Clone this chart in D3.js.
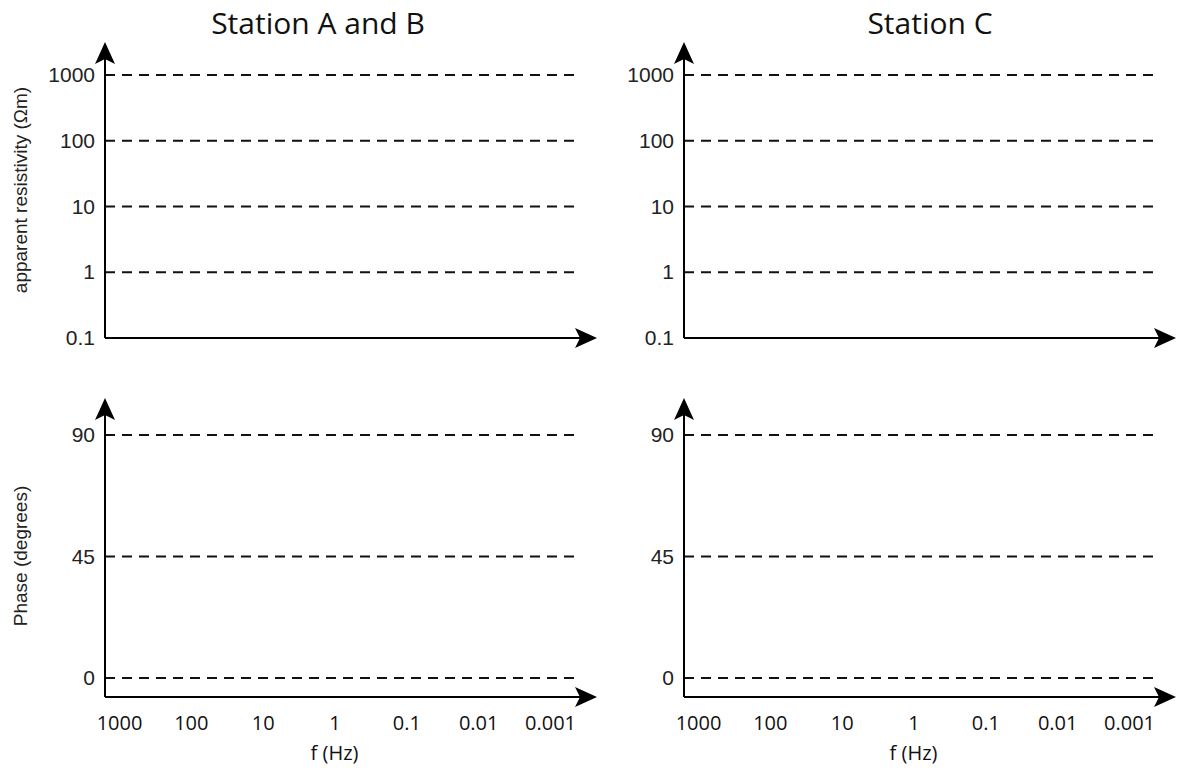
<!DOCTYPE html>
<html lang="en">
<head>
    <meta charset="UTF-8">
    <title>Station A and B / Station C</title>
    <style>
        body {
            margin: 0;
            background-color: #fff;
        }
        svg {
            display: block;
        }
        .title {
            font-family: "Open Sans", sans-serif;
            font-size: 30px;
            fill: #111;
        }
        .ylab {
            font-family: "Liberation Sans", Arial, sans-serif;
            font-size: 19px;
            fill: #222;
        }
        .ytick text {
            font-family: "Liberation Sans", Arial, sans-serif;
            font-size: 21px;
            fill: #222;
        }
        .xtick text, .xlab {
            font-family: "Open Sans", sans-serif;
            font-size: 20px;
            fill: #111;
        }
    </style>
    <script src="https://d3js.org/d3.v7.min.js"></script>
</head>
<body>
    <div id="chart"></div>
    <script>
        // chart content
        const stations = ["Station A and B", "Station C"];
        const freqTicks = [1000, 100, 10, 1, 0.1, 0.01, 0.001];
        const freqLabels = ["1000", "100", "10", "1", "0.1", "0.01", "0.001"];
        const resTicks = [0.1, 1, 10, 100, 1000];
        const resLabels = ["0.1", "1", "10", "100", "1000"];
        const resGrid = [1, 10, 100, 1000];
        const phaseTicks = [0, 45, 90];
        const phaseLabels = ["0", "45", "90"];

        const width = 1177;
        const height = 771;

        // left edge of each panel (y axis position) and title centre
        const panelX = [105, 684];
        const titleX = [318, 930];
        const axisLen = 492;

        const svg = d3.select('#chart').append('svg')
            .attr('width', width)
            .attr('height', height);

        const yRes = d3.scaleLog().domain([0.1, 1000]).range([338, 75]);
        const yPhase = d3.scaleLinear().domain([0, 90]).range([678, 435]);
        const phaseAxisY = 697;

        function arrowRight(g, x, y) {
            g.append('path')
                .attr('d', `M${x},${y} L${x - 22},${y - 10} L${x - 17},${y} L${x - 22},${y + 10} Z`)
                .attr('fill', '#000');
        }

        function arrowUp(g, x, y) {
            g.append('path')
                .attr('d', `M${x},${y} L${x - 10},${y + 22} L${x},${y + 17} L${x + 10},${y + 22} Z`)
                .attr('fill', '#000');
        }

        stations.forEach((name, i) => {
            const x0 = panelX[i];
            const g = svg.append('g');

            const x = d3.scaleLog().domain([1000, 0.001]).range([x0 + 14, x0 + 445]);

            g.append('text')
                .attr('class', 'title')
                .attr('x', titleX[i])
                .attr('y', 34)
                .attr('text-anchor', 'middle')
                .text(name);

            // resistivity panel
            g.selectAll('.resgrid')
                .data(resGrid)
                .enter().append('line')
                .attr('x1', x0)
                .attr('x2', x0 + 475)
                .attr('y1', d => yRes(d))
                .attr('y2', d => yRes(d))
                .attr('stroke', '#111')
                .attr('stroke-width', 2)
                .attr('stroke-dasharray', '10,7');

            const ra = g.append('g')
                .attr('class', 'ytick')
                .attr('transform', `translate(${x0},0)`)
                .call(d3.axisLeft(yRes).tickValues(resTicks)
                    .tickFormat((d, k) => resLabels[k]).tickSize(0).tickPadding(10));
            ra.select('.domain').remove();

            g.append('line')
                .attr('x1', x0).attr('x2', x0)
                .attr('y1', yRes(0.1)).attr('y2', 52)
                .attr('stroke', '#000').attr('stroke-width', 2);
            g.append('line')
                .attr('x1', x0).attr('x2', x0 + axisLen - 10)
                .attr('y1', yRes(0.1)).attr('y2', yRes(0.1))
                .attr('stroke', '#000').attr('stroke-width', 2);
            arrowUp(g, x0, 42);
            arrowRight(g, x0 + axisLen, yRes(0.1));

            // phase panel
            g.selectAll('.phgrid')
                .data(phaseTicks)
                .enter().append('line')
                .attr('x1', x0)
                .attr('x2', x0 + 475)
                .attr('y1', d => yPhase(d))
                .attr('y2', d => yPhase(d))
                .attr('stroke', '#111')
                .attr('stroke-width', 2)
                .attr('stroke-dasharray', '10,7');

            const pa = g.append('g')
                .attr('class', 'ytick')
                .attr('transform', `translate(${x0},0)`)
                .call(d3.axisLeft(yPhase).tickValues(phaseTicks)
                    .tickFormat((d, k) => phaseLabels[k]).tickSize(0).tickPadding(10));
            pa.select('.domain').remove();

            g.append('line')
                .attr('x1', x0).attr('x2', x0)
                .attr('y1', phaseAxisY).attr('y2', 408)
                .attr('stroke', '#000').attr('stroke-width', 2);
            g.append('line')
                .attr('x1', x0).attr('x2', x0 + axisLen - 10)
                .attr('y1', phaseAxisY).attr('y2', phaseAxisY)
                .attr('stroke', '#000').attr('stroke-width', 2);
            arrowUp(g, x0, 398);
            arrowRight(g, x0 + axisLen, phaseAxisY);

            const xa = g.append('g')
                .attr('class', 'xtick')
                .attr('transform', `translate(0,${phaseAxisY})`)
                .call(d3.axisBottom(x).tickValues(freqTicks)
                    .tickFormat((d, k) => freqLabels[k]).tickSize(0).tickPadding(19));
            xa.select('.domain').remove();

            g.append('text')
                .attr('class', 'xlab')
                .attr('x', x(1))
                .attr('y', 760)
                .attr('text-anchor', 'middle')
                .text('f (Hz)');
        });

        // y axis titles (left panel only)
        svg.append('text')
            .attr('class', 'ylab')
            .attr('transform', 'translate(27,190) rotate(-90)')
            .attr('text-anchor', 'middle')
            .text('apparent resistivity (Ωm)');

        svg.append('text')
            .attr('class', 'ylab')
            .attr('transform', 'translate(27,556) rotate(-90)')
            .attr('text-anchor', 'middle')
            .text('Phase (degrees)');
    </script>
</body>
</html>
